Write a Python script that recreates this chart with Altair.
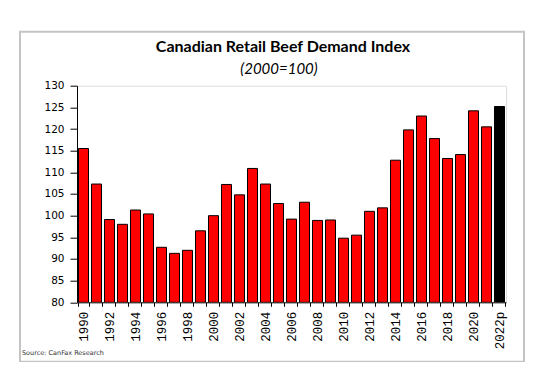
import altair as alt
import pandas as pd

years = ["1990", "1991", "1992", "1993", "1994", "1995", "1996", "1997", "1998", "1999",
         "2000", "2001", "2002", "2003", "2004", "2005", "2006", "2007", "2008", "2009",
         "2010", "2011", "2012", "2013", "2014", "2015", "2016", "2017", "2018", "2019",
         "2020", "2021", "2022p"]
index_values = [115.5, 107.3, 99.1, 98.0, 101.3, 100.4, 92.7, 91.3, 92.0, 96.5,
                100.0, 107.2, 104.8, 110.9, 107.3, 102.8, 99.2, 103.1, 98.9, 99.0,
                94.8, 95.5, 101.0, 101.8, 112.8, 119.8, 123.0, 117.8, 113.2, 114.1,
                124.2, 120.5, 125.2]
kinds = ["actual"] * 32 + ["preliminary"]

title_text = "Canadian Retail Beef Demand Index"
subtitle_text = "(2000=100)"
source_text = "Source: CanFax Research"

df = pd.DataFrame({"year": years, "value": index_values, "kind": kinds})

W, H = 429, 216.6

bars = alt.Chart(df).mark_bar(stroke="black", strokeWidth=1, clip=True).encode(
    x=alt.X("year:N", sort=years,
            scale=alt.Scale(paddingInner=0.23, paddingOuter=0.115),
            axis=alt.Axis(title=None, labelAngle=-90, tickBand="extent",
                          labelExpr="parseInt(datum.value) % 2 == 0 ? datum.value : ''",
                          labelFont="Liberation Mono", labelFontSize=12.5,
                          labelColor="black", labelPadding=5, tickSize=4,
                          tickColor="black", domainColor="black",
                          labelAlign="right", labelBaseline="middle")),
    y=alt.Y("value:Q", scale=alt.Scale(domain=[80, 130], nice=False, zero=False),
            axis=alt.Axis(title=None, values=list(range(80, 131, 5)), grid=False,
                          labelFont="DejaVu Sans", labelFontSize=10.5,
                          labelColor="black", tickSize=7, labelPadding=6,
                          tickColor="black", domainColor="black")),
    color=alt.Color("kind:N", scale=alt.Scale(domain=["actual", "preliminary"],
                                              range=["#ff0000", "#000000"]),
                    legend=None),
    y2=alt.datum(80),
)

one = pd.DataFrame({"a": [0]})

frame = alt.Chart(one).mark_rect(fill=None, stroke="#c4c4c4", strokeWidth=2).encode(
    x=alt.value(-57), x2=alt.value(447), y=alt.value(-54), y2=alt.value(276)
)

title = alt.Chart(one).mark_text(align="center", baseline="middle", fontSize=16,
                                 font="Lato", fontWeight="bold", color="black").encode(
    x=alt.value(206), y=alt.value(-38.5), text=alt.value(title_text)
)

subtitle = alt.Chart(one).mark_text(align="center", baseline="middle", fontSize=15,
                                    font="Lato", fontStyle="italic", color="black").encode(
    x=alt.value(202), y=alt.value(-16.5), text=alt.value(subtitle_text)
)

source = alt.Chart(one).mark_text(align="left", baseline="middle", fontSize=6.5,
                                  font="DejaVu Sans", color="#333333").encode(
    x=alt.value(-55), y=alt.value(267.5), text=alt.value(source_text)
)

chart = alt.layer(frame, bars, title, subtitle, source).properties(
    width=W, height=H,
    padding={"left": 69, "top": 77.7, "right": 27, "bottom": 60},
    autosize=alt.AutoSizeParams(type="none"),
).configure_view(stroke="black", strokeWidth=1).configure(background="white")

chart.save("out.html", embed_options={"renderer": "svg", "actions": False})
